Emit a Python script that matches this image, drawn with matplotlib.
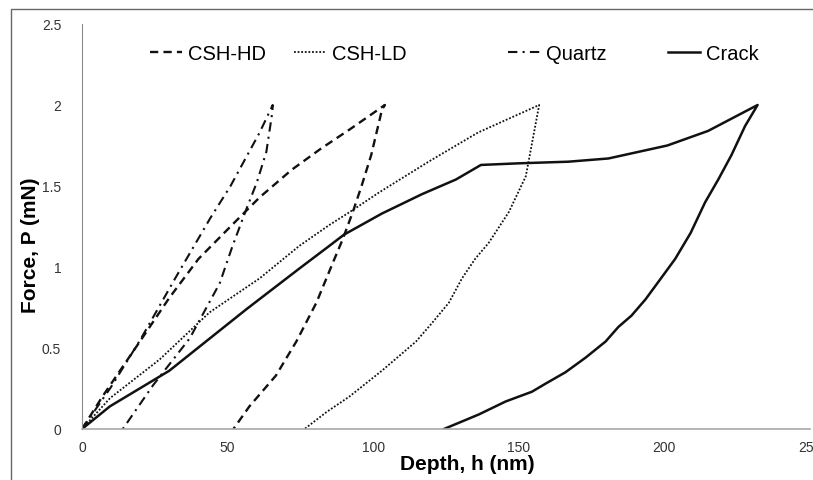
import matplotlib
matplotlib.use("Agg")
import matplotlib.pyplot as plt
from matplotlib.lines import Line2D
from matplotlib.patches import Rectangle

plt.rcParams["font.family"] = ["Liberation Sans", "DejaVu Sans"]

# load-unload curves, depth in nm, force in mN
hd_depth = [0, 7, 21, 30, 40, 51, 61, 72, 82, 92, 104,
            103, 99.3, 96, 93, 89.5, 86, 80.5, 73.6, 66.6, 57.5, 52]
hd_force = [0, 0.2, 0.57, 0.81, 1.05, 1.25, 1.43, 1.6, 1.73, 1.85, 2.0,
            1.97, 1.69, 1.5, 1.34, 1.17, 1.02, 0.78, 0.54, 0.33, 0.14, 0]

ld_depth = [0, 9.6, 26.7, 43.8, 61, 74.6, 85, 92, 102, 119, 136, 157,
            154.7, 152.4, 146.6, 139.7, 135, 130.5, 126, 120, 114.7, 103, 91.8, 84, 76.4]
ld_force = [0, 0.19, 0.43, 0.72, 0.93, 1.13, 1.26, 1.34, 1.46, 1.65, 1.83, 2.0,
            1.78, 1.56, 1.34, 1.15, 1.05, 0.93, 0.78, 0.65, 0.54, 0.36, 0.2, 0.105, 0]

qz_depth = [0, 10, 20, 32, 44, 51, 61, 65.5,
            65.4, 63.3, 60, 56.5, 51.7, 47.3, 37, 24.4, 14]
qz_force = [0, 0.26, 0.55, 0.93, 1.3, 1.5, 1.83, 2.0,
            1.96, 1.71, 1.52, 1.36, 1.13, 0.9, 0.56, 0.27, 0]

cr_depth = [0, 9.6, 30, 56.5, 74.6, 84.9, 90, 103, 116.8, 128.4, 137, 150, 167,
            180.8, 201, 215, 232,
            227.7, 223, 218.5, 214, 209, 203.7, 198, 193.5, 188.7, 184.2, 179.8,
            172.9, 166, 159.2, 154.5, 145.5, 136.3, 124.3]
cr_force = [0, 0.14, 0.36, 0.74, 0.99, 1.13, 1.2, 1.33, 1.45, 1.54, 1.63, 1.64, 1.65,
            1.67, 1.75, 1.84, 2.0,
            1.87, 1.69, 1.54, 1.4, 1.21, 1.05, 0.91, 0.8, 0.7, 0.63, 0.54,
            0.44, 0.35, 0.28, 0.23, 0.17, 0.09, 0]

labels = ["CSH-HD", "CSH-LD", "Quartz", "Crack"]

fig = plt.figure(figsize=(8.13, 4.81), dpi=100)
ax = fig.add_axes([82 / 813, 51 / 481, 728 / 813, 405 / 481])

styles = [
    dict(lw=1.7, dashes=(3.5, 2.2)),
    dict(lw=1.3, dashes=(1, 1)),
    dict(lw=1.5, dashes=(4.5, 2.5, 1, 2.5)),
    dict(lw=1.8, ls="-"),
]
series = [(hd_depth, hd_force), (ld_depth, ld_force),
          (qz_depth, qz_force), (cr_depth, cr_force)]
lines = []
for (x, y), st in zip(series, styles):
    ln, = ax.plot(x, y, color="#111111", solid_joinstyle="round", **st)
    lines.append(ln)

ax.set_xlim(0, 250)
ax.set_ylim(0, 2.5)
ax.set_xticks([0, 50, 100, 150, 200, 250])
ax.set_yticks([0, 0.5, 1, 1.5, 2, 2.5])
ax.set_yticklabels(["0", "0.5", "1", "1.5", "2", "2.5"])
ax.tick_params(length=0, labelsize=10, colors="#333333")
ax.tick_params(axis="y", pad=15)
ax.tick_params(axis="x", pad=8)
for s in ["top", "right"]:
    ax.spines[s].set_visible(False)
ax.spines["left"].set_color("#8c8c8c")
ax.spines["bottom"].set_color("#a8a8a8")
ax.spines["bottom"].set_linewidth(1.2)

ax.set_xlabel("Depth, h (nm)", fontsize=15, fontweight="bold")
ax.set_ylabel("Force, P (mN)", fontsize=15, fontweight="bold")
ax.xaxis.set_label_coords(0.529, -0.062)
ax.yaxis.set_label_coords(-0.058, 0.455)

# legend entries placed one by one across the top
starts = [150, 294, 508, 668]
for ln, lab, x0 in zip(lines, labels, starts):
    h = Line2D([], [], color="#111111", lw=ln.get_linewidth(),
               linestyle=ln.get_linestyle())
    if ln.get_linestyle() != "-":
        h.set_dashes(ln._unscaled_dash_pattern[1])
    leg = fig.legend([h], [lab], loc="center left",
                     bbox_to_anchor=(x0 / 813, 1 - 55 / 481),
                     frameon=False, fontsize=14.5, handlelength=1.6,
                     handletextpad=0.3, borderpad=0, borderaxespad=0)

# outer frame of the picture
fig.patches.append(Rectangle((11 / 813, -0.1), 1.2, (1 - 10 / 481) + 0.1,
                             transform=fig.transFigure, fill=False,
                             edgecolor="#666666", lw=1.0))

fig.savefig("out.png", dpi=100)
